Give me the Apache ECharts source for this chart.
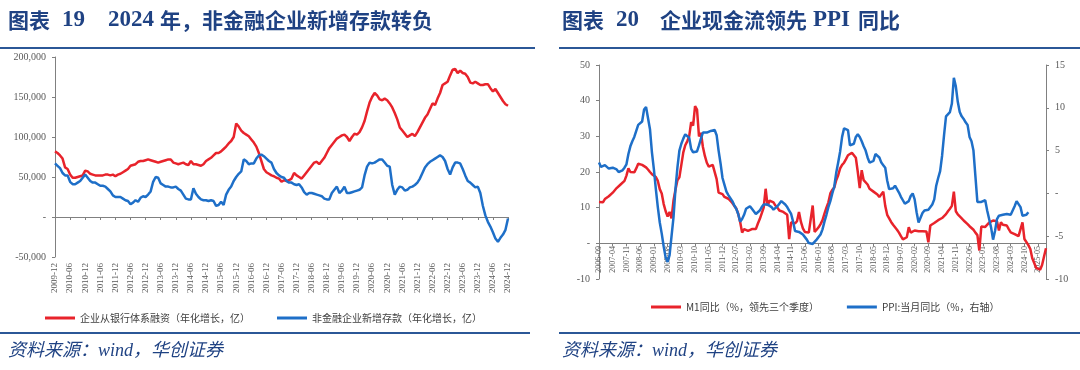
<!DOCTYPE html>
<html><head><meta charset="utf-8">
<script src="https://cdn.jsdelivr.net/npm/echarts@6/dist/echarts.min.js"></script>
<style>html,body{margin:0;padding:0;background:#fff}#c{width:1080px;height:370px}</style>
</head><body><div id="c"></div>
<script>
// ---------- Chart 19 data (亿, annualised, monthly 2009-12 .. 2024-12) ----------
const loanNames = ['企业从银行体系融资（年化增长，亿）', '非金融企业新增存款（年化增长，亿）'];
const bankFinancing = [
 82000,80000,77000,73000,62000,60000,53000,49000,49000,50000,
 51000,52000,58000,57000,54000,53000,52000,52000,52000,52000,
 53000,53000,52000,53000,51000,53000,54000,56000,58000,60000,
 64000,65000,66000,69000,70000,70000,71000,72000,71000,70000,
 69000,68000,69000,70000,71000,72000,72000,68000,67000,66000,
 67000,68000,66000,65000,70000,66000,66000,65000,64000,66000,
 70000,72000,74000,77000,80000,80000,82000,85000,88000,92000,
 95000,100000,117000,113000,108000,105000,103000,101000,97000,93000,
 88000,80000,70000,60000,56000,54000,52000,51000,49000,48000,
 44000,46000,45000,46000,48000,55000,52000,50000,48000,52000,
 56000,60000,64000,68000,69000,66000,70000,74000,80000,86000,
 90000,94000,98000,100000,102000,103000,100000,95000,100000,104000,
 103000,106000,112000,120000,132000,143000,150000,155000,152000,147000,
 146000,148000,146000,142000,137000,130000,122000,112000,108000,104000,
 100000,102000,104000,101000,106000,112000,118000,124000,128000,135000,
 142000,140000,148000,155000,165000,167000,169000,177000,184000,185000,
 180000,183000,180000,179000,175000,168000,167000,169000,167000,165000,
 165000,166000,166000,161000,157000,160000,155000,150000,145000,141000,139000];
const newDeposits = [
 67000,64000,61000,55000,52000,52000,44000,41000,41000,43000,
 45000,49000,53000,49000,45000,43000,43000,41000,39000,39000,
 38000,35000,32000,27000,25000,25000,25000,23000,21000,20000,
 16000,18000,21000,19000,24000,26000,25000,28000,32000,44000,
 50000,49000,42000,40000,38000,38000,37000,37000,38000,35000,
 33000,28000,23000,22000,22000,36000,29000,25000,22000,21000,
 21000,20000,21000,20000,14000,15000,19000,15000,28000,34000,
 38000,45000,50000,54000,57000,72000,70000,66000,67000,67000,
 73000,77000,78000,76000,73000,70000,68000,60000,55000,52000,
 50000,49000,45000,43000,43000,41000,40000,41000,37000,31000,
 28000,30000,30000,29000,28000,27000,26000,23000,22000,22000,
 30000,34000,38000,30000,33000,38000,30000,30000,31000,32000,
 33000,34000,37000,52000,63000,68000,67000,68000,70000,72000,
 72000,68000,64000,63000,40000,28000,34000,38000,37000,33000,
 34000,37000,38000,40000,43000,48000,55000,62000,66000,69000,
 71000,73000,75000,77000,75000,70000,60000,53000,62000,68000,
 68000,67000,60000,52000,45000,43000,40000,37000,38000,30000,
 14000,2000,-6000,-12000,-19000,-27000,-31000,-26000,-22000,-16000,-2000];

// ---------- Chart 20 data (%, monthly 2006-09 .. 2025-09) ----------
const ppiNames = ['M1同比（%，领先三个季度）', 'PPI:当月同比（%，右轴）'];
const m1Lead = [
 11.6,11.2,11.5,12.4,12.8,13.2,13.7,14.2,14.5,15.5,
 16,16.5,16.7,17.5,19,21,20,19.8,19.9,21,
 22.3,22.2,22,21.7,21.3,20.7,20,19.4,19.1,18.6,
 17.5,15.2,14,11,9,7.5,8.8,7,12,15,
 17.7,18.5,22,25.5,27.5,28.6,30,34,33,38.5,
 37.5,30,31,27,24.5,22.6,21.5,21,22,21.7,
 18,14.2,14.6,13.8,13,13,12.5,12,11.3,10.5,
 9.8,8.3,6,3,4,4.2,3.5,3.3,4,4.2,
 4,5.5,6.8,6.5,10,15.3,10.5,12,11.8,11.5,
 10.6,10,9.2,9,8.8,9.2,8,1.2,5.9,5.5,
 5.6,6.2,8.8,6,4.2,3.2,3.1,3,2.6,10.6,
 3.2,3.8,4.5,5.4,6.5,8.3,10,11.5,14,15,
 15.6,17.7,19.1,21,22,22.6,23.6,24.7,25,25.4,
 25,24,20,15.5,20.5,17.7,17.7,16.5,15.3,15,
 14.5,14,13.7,13,12.8,14.5,10.5,8,7,6,
 5.2,4.5,3.8,3,2,1.1,0.8,1.7,4.5,3,
 3.5,3.6,3.3,3.4,3.4,3.4,3.3,3.3,0.3,5,
 5.2,5.7,6,6.5,6.9,7.1,7.5,8.2,9,9.7,
 10.5,14.5,9,8.1,7.6,7,6.4,6,5.4,4.8,
 4.3,3.8,3,2.3,-2,4.7,5,4.6,4.8,5.8,
 6.2,6.4,6.4,6.2,3.6,5.9,5.2,5,5,4,
 3.1,2.8,2.6,2.3,2,1.7,5.9,1.2,0.8,-0.5,
 -1.6,-4.2,-5.5,-6.9,-7.3,-7.4,-6.1,-3.7,-1.4];
const ppiYoY = [
 3.6,3.1,3.0,3.3,3.4,2.9,2.9,3.0,2.9,2.8,
 2.5,2.5,2.7,3.0,3.4,4.6,5.5,6.1,6.6,7.3,
 8.0,8.2,8.4,9.8,10.1,9.9,7.5,4.8,2.8,0.5,
 -1.6,-3.4,-4.7,-6.2,-7.5,-8.0,-7.2,-5.0,-2.8,0.5,
 3.0,5.0,5.8,6.4,6.9,7.1,6.5,5.2,4.8,4.6,
 4.9,5.6,6.4,7.1,7.2,7.1,7.2,7.3,7.5,7.4,
 6.8,5.0,3.5,1.8,1.0,0.2,-0.2,-0.4,-0.9,-1.4,
 -1.8,-2.4,-3.3,-3.0,-2.5,-1.8,-1.6,-1.5,-1.8,-2.0,
 -2.4,-2.6,-2.0,-1.6,-1.3,-1.3,-1.3,-1.4,-1.6,-1.9,
 -1.8,-1.5,-1.2,-0.9,-1.0,-1.3,-1.6,-2.0,-2.4,-3.3,
 -4.4,-4.5,-4.5,-4.6,-4.8,-5.0,-5.4,-5.8,-5.9,-5.9,
 -5.7,-5.4,-5.1,-4.8,-4.2,-3.3,-2.5,-1.6,-0.9,0.0,
 0.8,2.4,3.6,4.9,6.6,7.6,7.8,7.4,5.6,5.5,
 5.8,6.6,6.9,6.6,6.1,5.5,5.0,4.2,3.6,3.4,
 3.8,4.6,4.5,4.2,3.6,3.3,3.0,1.5,0.5,0.3,
 0.6,0.9,0.5,0.1,-0.4,-0.8,-1.2,-1.1,-0.9,-0.3,
 0.0,-0.7,-2.2,-3.4,-3.2,-2.3,-2.0,-1.9,-1.9,-1.8,
 -1.3,-0.7,0.9,1.8,2.6,4.4,6.8,9.0,9.1,9.5,
 10.5,13.5,12.5,10.7,9.5,9.0,8.7,8.3,8.0,6.6,
 6.1,5.0,2.0,-1.0,-1.1,-1.0,-0.8,-0.8,-2.0,-3.0,
 -4.0,-5.4,-4.4,-3.0,-2.6,-2.6,-2.5,-2.3,-2.4,-2.5,
 -2.5,-2.4,-1.5,-0.9,-0.8,-1.6,-2.6,-2.7,-2.5,-2.2];

// ---------- text ----------
const title19Parts = ['图表', '19', '2024', '年，非金融企业新增存款转负'];
const title20Parts = ['图表', '20', '企业现金流领先', 'PPI', '同比'];
const sourceText = '资料来源：wind，华创证券';

function months(y, m, n) {
  const out = [];
  for (let i = 0; i < n; i++) {
    const t = (m - 1) + i;
    const yy = y + Math.floor(t / 12), mm = t % 12 + 1;
    out.push(yy + '-' + (mm < 10 ? '0' : '') + mm);
  }
  return out;
}
const cats19 = months(2009, 12, bankFinancing.length);
const cats20 = months(2006, 9, m1Lead.length);

const RED = '#E8232B', BLUE = '#1E6FC8', AX = '#808080', LBL = '#595959';
const serif = '"Liberation Serif","Times New Roman",serif';
const cjk = '"Noto Sans CJK SC",sans-serif';
const titleColor = '#1F4283', ruleColor = '#2B5797';

function tCJK(text, x) {
  return {type: 'text', left: x, top: 10, style: {text: text, fontSize: 21, fontWeight: 'bold', fontFamily: cjk, fill: titleColor}};
}
function tLat(text, x) {
  return {type: 'text', left: x, top: 9, style: {text: text, fontSize: 23, fontWeight: 'bold', fontFamily: serif, fill: titleColor}};
}

const chart = echarts.init(document.getElementById('c'), null, {renderer: 'canvas'});
const zeroDash = v => v === 0 ? '-' : v;
chart.setOption({
  animation: false,
  backgroundColor: '#fff',
  grid: [
    {left: 55, top: 57, width: 453, height: 200},
    {left: 599, top: 65, width: 447, height: 214}
  ],
  xAxis: [
    {gridIndex: 0, type: 'category', data: cats19, boundaryGap: false,
     axisLine: {onZero: true, lineStyle: {color: AX, width: 1}},
     axisTick: {show: true, interval: 5, length: 3, lineStyle: {color: AX}},
     axisLabel: {interval: 5, rotate: 90, margin: 6, fontSize: 9, color: LBL, fontFamily: serif},
     splitLine: {show: false}},
    {gridIndex: 1, type: 'category', data: cats20, boundaryGap: false,
     axisLine: {onZero: true, onZeroAxisIndex: 1, lineStyle: {color: AX, width: 1}},
     axisTick: {show: true, interval: 6, length: 3, lineStyle: {color: AX}},
     axisLabel: {interval: 6, rotate: 90, margin: -33, fontSize: 8, color: LBL, fontFamily: serif},
     splitLine: {show: false}}
  ],
  yAxis: [
    {gridIndex: 0, type: 'value', min: -50000, max: 200000, interval: 50000,
     axisLine: {show: true, lineStyle: {color: AX}},
     axisTick: {show: true, length: 3, lineStyle: {color: AX}},
     axisLabel: {fontSize: 10, color: LBL, fontFamily: serif, margin: 9,
       formatter: v => v === 0 ? '-' : v.toLocaleString('en-US')},
     splitLine: {show: false}},
    {gridIndex: 1, type: 'value', position: 'left', min: -10, max: 50, interval: 10,
     axisLine: {show: true, onZero: false, lineStyle: {color: AX}},
     axisTick: {show: true, length: 3, lineStyle: {color: AX}},
     axisLabel: {fontSize: 10, color: LBL, fontFamily: serif, margin: 9, formatter: zeroDash},
     splitLine: {show: false}},
    {gridIndex: 1, type: 'value', position: 'right', min: -10, max: 15, interval: 5,
     axisLine: {show: true, onZero: false, lineStyle: {color: AX}},
     axisTick: {show: true, length: 3, lineStyle: {color: AX}},
     axisLabel: {fontSize: 10, color: LBL, fontFamily: serif, margin: 9, formatter: zeroDash},
     splitLine: {show: false}}
  ],
  legend: [
    {data: loanNames, left: 40, top: 308, icon: 'rect', itemWidth: 30, itemHeight: 3, itemGap: 27,
     textStyle: {fontSize: 10, color: '#404040', fontFamily: cjk}},
    {data: ppiNames, left: 646, top: 297, icon: 'rect', itemWidth: 30, itemHeight: 3, itemGap: 28,
     textStyle: {fontSize: 10, color: '#404040', fontFamily: cjk}}
  ],
  series: [
    {name: loanNames[0], type: 'line', xAxisIndex: 0, yAxisIndex: 0, data: bankFinancing,
     symbol: 'none', lineStyle: {color: RED, width: 2.5}, itemStyle: {color: RED}},
    {name: loanNames[1], type: 'line', xAxisIndex: 0, yAxisIndex: 0, data: newDeposits,
     symbol: 'none', lineStyle: {color: BLUE, width: 2.5}, itemStyle: {color: BLUE}},
    {name: ppiNames[0], type: 'line', xAxisIndex: 1, yAxisIndex: 1, data: m1Lead,
     symbol: 'none', lineStyle: {color: RED, width: 2.5}, itemStyle: {color: RED}},
    {name: ppiNames[1], type: 'line', xAxisIndex: 1, yAxisIndex: 2, data: ppiYoY,
     symbol: 'none', lineStyle: {color: BLUE, width: 2.5}, itemStyle: {color: BLUE}}
  ],
  graphic: [
    tCJK(title19Parts[0], 8), tLat(title19Parts[1], 62), tLat(title19Parts[2], 108), tCJK(title19Parts[3], 160),
    tCJK(title20Parts[0], 562), tLat(title20Parts[1], 616), tCJK(title20Parts[2], 660), tLat(title20Parts[3], 813), tCJK(title20Parts[4], 858),
    {type: 'line', shape: {x1: 0, y1: 48, x2: 535, y2: 48}, style: {stroke: ruleColor, lineWidth: 2}},
    {type: 'line', shape: {x1: 559, y1: 48, x2: 1080, y2: 48}, style: {stroke: ruleColor, lineWidth: 2}},
    {type: 'line', shape: {x1: 0, y1: 333, x2: 530, y2: 333}, style: {stroke: ruleColor, lineWidth: 2}},
    {type: 'line', shape: {x1: 559, y1: 333, x2: 1080, y2: 333}, style: {stroke: ruleColor, lineWidth: 2}},
    {type: 'text', left: 8, top: 342, style: {text: sourceText, fontSize: 18, fontStyle: 'italic', fontFamily: serif + ',' + cjk, fill: titleColor}},
    {type: 'text', left: 562, top: 342, style: {text: sourceText, fontSize: 18, fontStyle: 'italic', fontFamily: serif + ',' + cjk, fill: titleColor}}
  ]
});
</script>
</body></html>
